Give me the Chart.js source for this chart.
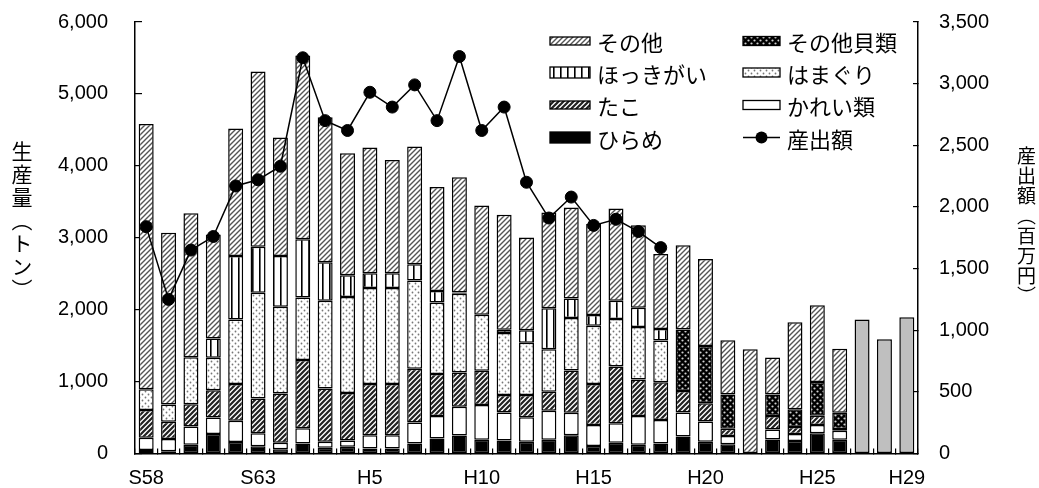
<!DOCTYPE html>
<html>
<head>
<meta charset="utf-8">
<script src="https://cdn.jsdelivr.net/npm/chart.js"></script>
<style>
  body { margin: 0; background: #fff; }
  #wrap { position: relative; width: 1039px; height: 488px; }
  .ttl { position: absolute; writing-mode: vertical-rl; font-family: "Noto Sans CJK JP"; color: #000; line-height: 1; }
  #ttlLeft { left: 11px; top: 141px; font-size: 21px; letter-spacing: 2px; }
  #ttlRight { left: 1017px; top: 146px; font-size: 19px; letter-spacing: 1px; }
</style>
</head>
<body>
<div id="wrap">
  <canvas id="grafico" width="1039" height="488"></canvas>
  <div class="ttl" id="ttlLeft">生産量（トン）</div>
  <div class="ttl" id="ttlRight">産出額（百万円）</div>
</div>
<script>
const anos = ['S58','S59','S60','S61','S62','S63',
  'H1','H2','H3','H4','H5','H6','H7','H8','H9','H10','H11','H12','H13','H14','H15',
  'H16','H17','H18','H19','H20','H21','H22','H23','H24','H25','H26','H27','H28','H29'];
const rotulosX = ['S58','S63','H5','H10','H15','H20','H25','H29'];

// toneladas, de baixo para cima na pilha
const hirame = [50,30,120,270,160,100,60,140,80,95,70,70,140,210,250,190,180,165,190,255,105,150,120,140,235,165,130,null,195,175,280,190,null,null,null];
const karei = [170,170,255,230,295,180,90,210,85,85,185,185,290,310,400,485,390,340,405,310,290,270,400,325,335,280,115,null,140,95,115,125,null,null,null];
const tako = [385,240,310,380,510,485,685,950,740,660,710,710,750,585,475,475,245,310,265,590,570,790,510,525,300,255,100,null,185,100,130,25,null,null,null];
const hamaguri = [290,240,655,450,900,1470,1205,870,1220,1335,1335,1335,1225,995,1095,780,860,725,590,730,810,660,730,580,null,null,null,null,null,null,null,null,null,null,null];
const hokkigai = [null,null,null,270,880,640,705,810,535,305,205,205,225,160,20,null,45,175,570,270,150,255,265,160,null,null,null,null,null,null,null,null,null,null,null];
const sonotaKai = [null,null,null,null,null,null,null,null,null,null,null,null,null,null,null,null,null,null,null,null,null,null,null,null,855,795,475,null,300,245,470,225,null,null,null];
const sonota = [3685,2390,2000,1445,1775,2435,1650,2555,2015,1695,1750,1575,1640,1445,1600,1520,1600,1290,1330,1265,1265,1280,1150,1045,1170,1210,755,1450,515,1210,1065,890,null,null,null];
const total = [null,null,null,null,null,null,null,null,null,null,null,null,null,null,null,null,null,null,null,null,null,null,null,null,null,null,null,null,null,null,null,null,1865,1590,1895];
// 産出額 (百万円)
const sanshutsu = [1840,1250,1650,1760,2170,2220,2330,3210,2700,2620,2930,2810,2990,2700,3220,2620,2810,2200,1910,2080,1850,1900,1800,1670,null,null,null,null,null,null,null,null,null,null,null];

const canvas = document.getElementById('grafico');
const ctx = canvas.getContext('2d');

function novaTela(w, h) {
  const c = document.createElement('canvas');
  c.width = w; c.height = h;
  return c;
}

function hachura(cor, espessura, tam) {
  const c = novaTela(tam, tam);
  const g = c.getContext('2d');
  g.fillStyle = '#fff';
  g.fillRect(0, 0, tam, tam);
  g.strokeStyle = cor;
  g.lineWidth = espessura;
  g.beginPath();
  g.moveTo(-1, tam + 1); g.lineTo(tam + 1, -1);
  g.moveTo(-1, 1); g.lineTo(1, -1);
  g.moveTo(tam - 1, tam + 1); g.lineTo(tam + 1, tam - 1);
  g.stroke();
  return ctx.createPattern(c, 'repeat');
}

function pontos(fundo, cor, tam, raio) {
  const c = novaTela(tam, tam);
  const g = c.getContext('2d');
  g.fillStyle = fundo;
  g.fillRect(0, 0, tam, tam);
  g.fillStyle = cor;
  [[tam / 4, tam / 4], [tam * 3 / 4, tam * 3 / 4]].forEach(p => {
    g.beginPath();
    g.arc(p[0], p[1], raio, 0, Math.PI * 2);
    g.fill();
  });
  return ctx.createPattern(c, 'repeat');
}

function listras(tam) {
  const c = novaTela(tam, 4);
  const g = c.getContext('2d');
  g.fillStyle = '#fff';
  g.fillRect(0, 0, tam, 4);
  g.fillStyle = '#000';
  g.fillRect(0, 0, 1.6, 4);
  return ctx.createPattern(c, 'repeat');
}

const padraoSonota = hachura('#555', 1.4, 5);
const padraoTako = hachura('#222', 2.2, 5);
const padraoHamaguri = pontos('#fff', '#777', 6, 0.9);
const padraoKai = pontos('#000', '#d0d0d0', 6, 1.1);
const padraoHokki = listras(7);

function barra(label, dados, fundo) {
  return {
    type: 'bar',
    label: label,
    data: dados,
    backgroundColor: fundo,
    borderColor: '#000',
    borderWidth: 1.5,
    borderSkipped: false,
    barPercentage: 0.67,
    categoryPercentage: 1,
    yAxisID: 'y',
    order: 1
  };
}

const legenda = [
  { label: 'その他', fill: padraoSonota, col: 0, row: 0, h: 8 },
  { label: 'その他貝類', fill: padraoKai, col: 1, row: 0, h: 9 },
  { label: 'ほっきがい', fill: padraoHokki, col: 0, row: 1, h: 11 },
  { label: 'はまぐり', fill: padraoHamaguri, col: 1, row: 1, h: 9 },
  { label: 'たこ', fill: padraoTako, col: 0, row: 2, h: 8 },
  { label: 'かれい類', fill: '#fff', col: 1, row: 2, h: 9 },
  { label: 'ひらめ', fill: '#000', col: 0, row: 3, h: 11 },
  { label: '産出額', fill: null, col: 1, row: 3, h: 0 }
];

const pluginLegenda = {
  id: 'legendaFixa',
  afterDraw(chart) {
    const c = chart.ctx;
    const colX = [550, 743];
    const colW = [40, 37];
    const rowY = [41, 72.5, 105, 137.5];
    c.save();
    legenda.forEach(item => {
      const x = colX[item.col];
      const w = colW[item.col];
      const y = rowY[item.row];
      if (item.fill) {
        c.fillStyle = item.fill;
        c.fillRect(x, y - item.h / 2, w, item.h);
        c.strokeStyle = '#000';
        c.lineWidth = 1.3;
        c.strokeRect(x, y - item.h / 2, w, item.h);
      } else {
        c.strokeStyle = '#000';
        c.lineWidth = 1.5;
        c.beginPath();
        c.moveTo(x, y); c.lineTo(x + w, y);
        c.stroke();
        c.fillStyle = '#000';
        c.beginPath();
        c.arc(x + w / 2, y, 6, 0, Math.PI * 2);
        c.fill();
      }
      c.fillStyle = '#000';
      c.font = '22px "Noto Sans CJK JP"';
      c.textBaseline = 'middle';
      c.textAlign = 'left';
      c.fillText(item.label, x + w + 7, y + 2);
    });
    c.restore();
  }
};

const fonteEixo = { family: 'Liberation Sans', size: 20 };

new Chart(canvas, {
  type: 'bar',
  data: {
    labels: anos,
    datasets: [
      {
        type: 'line',
        label: '産出額',
        data: sanshutsu,
        yAxisID: 'y2',
        borderColor: '#000',
        borderWidth: 1.5,
        pointRadius: 6,
        pointBackgroundColor: '#000',
        pointBorderColor: '#000',
        pointBorderWidth: 1,
        spanGaps: false,
        order: 0
      },
      barra('ひらめ', hirame, '#000'),
      barra('かれい類', karei, '#fff'),
      barra('たこ', tako, padraoTako),
      barra('はまぐり', hamaguri, padraoHamaguri),
      barra('ほっきがい', hokkigai, padraoHokki),
      barra('その他貝類', sonotaKai, padraoKai),
      barra('その他', sonota, padraoSonota),
      barra('合計', total, '#bfbfbf')
    ]
  },
  options: {
    responsive: false,
    animation: false,
    devicePixelRatio: 1,
    layout: { padding: { top: 22, left: 0, right: 0, bottom: 0 } },
    plugins: {
      legend: { display: false },
      tooltip: { enabled: false }
    },
    scales: {
      x: {
        stacked: true,
        grid: { drawOnChartArea: false, tickLength: -5, color: '#000', lineWidth: 1.2 },
        border: { color: '#000', width: 1.5 },
        ticks: {
          autoSkip: false,
          maxRotation: 0,
          padding: 18,
          color: '#000',
          font: fonteEixo,
          callback: (v, i) => rotulosX.includes(anos[i]) ? anos[i] : ''
        },
        afterFit: s => { s.height = 34.5; s.paddingLeft = 0; s.paddingRight = 0; }
      },
      y: {
        stacked: true,
        position: 'left',
        min: 0,
        max: 6000,
        grid: { drawOnChartArea: false, tickLength: -7, color: '#000', lineWidth: 1.2 },
        border: { color: '#000', width: 1.5 },
        ticks: {
          stepSize: 1000,
          padding: 34,
          color: '#000',
          font: fonteEixo,
          callback: v => v.toLocaleString('en-US')
        },
        afterFit: s => { s.width = 135; s.paddingTop = 0; s.paddingBottom = 0; }
      },
      y2: {
        position: 'right',
        min: 0,
        max: 3500,
        grid: { drawOnChartArea: false, tickLength: -5, color: '#000', lineWidth: 1.2 },
        border: { color: '#000', width: 1.5 },
        ticks: {
          stepSize: 500,
          padding: 26,
          color: '#000',
          font: fonteEixo,
          callback: v => v.toLocaleString('en-US')
        },
        afterFit: s => { s.width = 121; s.paddingTop = 0; s.paddingBottom = 0; }
      }
    }
  },
  plugins: [pluginLegenda]
});
</script>
</body>
</html>
